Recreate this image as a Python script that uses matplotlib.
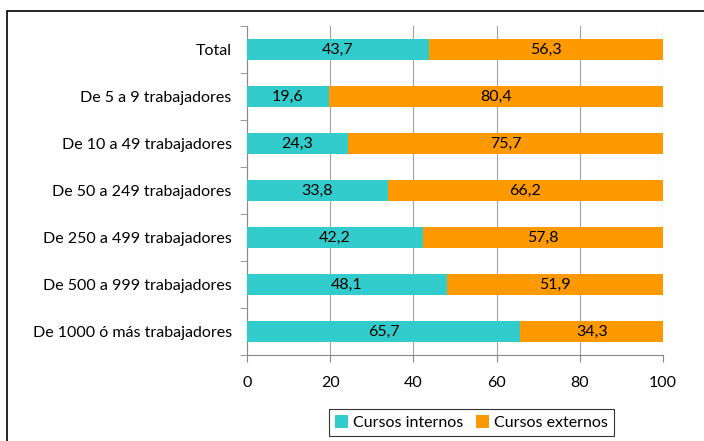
import matplotlib
matplotlib.use("Agg")
from matplotlib import pyplot as plt
import matplotlib.patches as mpatches
import numpy as np

categories = ["Total", "De 5 a 9 trabajadores", "De 10 a 49 trabajadores",
              "De 50 a 249 trabajadores", "De 250 a 499 trabajadores",
              "De 500 a 999 trabajadores", "De 1000 ó más trabajadores"]
internos = [43.7, 19.6, 24.3, 33.8, 42.2, 48.1, 65.7]
externos = [56.3, 80.4, 75.7, 66.2, 57.8, 51.9, 34.3]
series_names = ["Cursos internos", "Cursos externos"]
xticks = [0, 20, 40, 60, 80, 100]

plt.rcParams['font.family'] = ['Lato', 'DejaVu Sans']
col_int = "#33CCCC"
col_ext = "#FF9900"
fs = 11.5

fig = plt.figure(figsize=(7.04, 4.41), dpi=100)
ax = fig.add_axes([247/704, 1-355/441, (663-247)/704, (355-26)/441])

y = np.arange(len(categories))
h = 0.45
b1 = ax.barh(y, internos, height=h, color=col_int, label=series_names[0], zorder=3)
b2 = ax.barh(y, externos, left=internos, height=h, color=col_ext, label=series_names[1], zorder=3)

def fmt(v):
    return ("%.1f" % v).replace(".", ",")

for i in range(len(categories)):
    ax.text(internos[i]/2, y[i], fmt(internos[i]), ha="center", va="center", fontsize=fs, zorder=4)
    ax.text(internos[i] + externos[i]/2, y[i], fmt(externos[i]), ha="center", va="center", fontsize=fs, zorder=4)

ax.set_ylim(len(categories)-0.5, -0.5)
ax.set_xlim(0, 100)
ax.set_yticks(y)
ax.set_yticklabels(categories, fontsize=fs)
ax.set_yticks(np.arange(-0.5, len(categories)), minor=True)
ax.tick_params(axis="y", which="major", length=0, pad=11)
ax.tick_params(axis="y", which="minor", length=5, color="#888888")
ax.set_xticks(xticks)
ax.set_xticklabels([str(t) for t in xticks], fontsize=fs)
ax.tick_params(axis="x", length=5, color="#888888", pad=10)
ax.grid(axis="x", color="#a0a0a0", linewidth=0.8, zorder=0)
for s in ["top", "right"]:
    ax.spines[s].set_visible(False)
for s in ["left", "bottom"]:
    ax.spines[s].set_color("#888888")

fig.patches.append(mpatches.Rectangle((7/704, -0.05), 1.0, 1-11/441+0.05,
                                      transform=fig.transFigure, fill=False,
                                      edgecolor="black", linewidth=1.2))

leg = fig.legend(handles=[b1, b2], loc="upper left", bbox_to_anchor=(329/704, 1-409/441),
                 ncol=2, fontsize=fs, frameon=True, fancybox=False, edgecolor="black",
                 handlelength=0.8, handleheight=0.8, handletextpad=0.3, columnspacing=0.8,
                 borderpad=0.4, borderaxespad=0)
leg.get_frame().set_linewidth(0.8)

fig.savefig("out.png", dpi=100)
